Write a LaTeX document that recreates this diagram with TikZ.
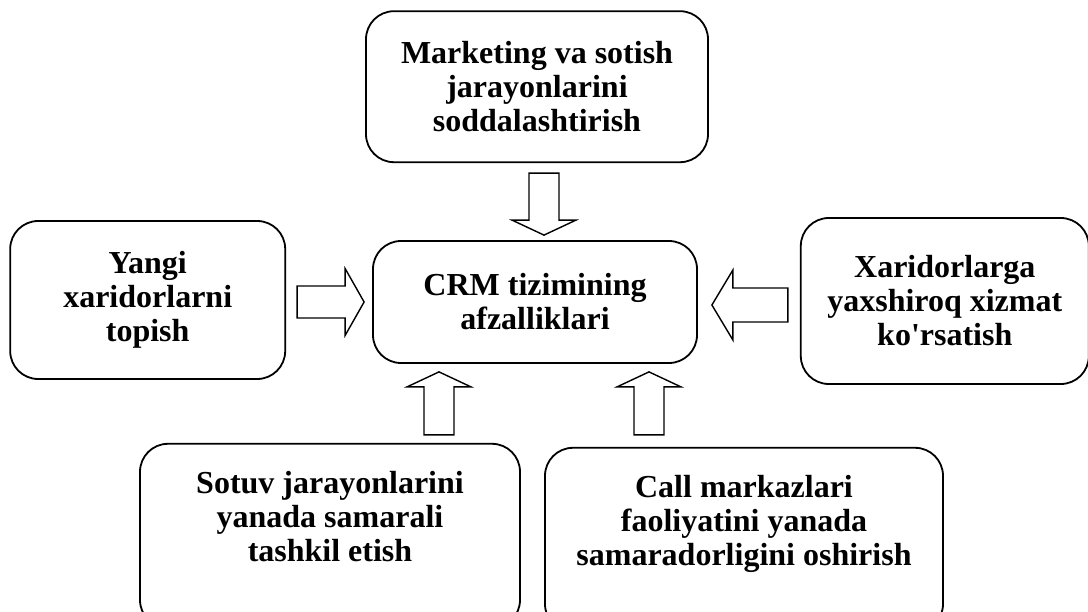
\documentclass[tikz,border=0pt]{standalone}
\usepackage{fontspec}
\setmainfont{Liberation Serif}[Ligatures=TeXOff]
\usetikzlibrary{calc,positioning}
\tikzset{%
	box/.style      = {draw, rectangle, rounded corners=28pt, line width=1.8pt, align=center, inner sep=0pt, font=\bfseries\fontsize{32}{34}\selectfont}, % Box
	openbox/.style  = {box, inner ysep=27pt, text depth=40pt}, % Box running off the page
	bigarrow/.style n args = {3}{draw, line width=1.4pt, to path={let \p1=(\tikztostart), \p2=(\tikztotarget), \n1={atan2(\y2-\y1,\x2-\x1)} in
		($(\p1)+(\n1+90:#1pt)$) -- ($(\p2)+(\n1+180:#3pt)+(\n1+90:#1pt)$) -- ($(\p2)+(\n1+180:#3pt)+(\n1+90:#2pt)$) -- (\p2)
		-- ($(\p2)+(\n1+180:#3pt)+(\n1-90:#2pt)$) -- ($(\p2)+(\n1+180:#3pt)+(\n1-90:#1pt)$) -- ($(\p1)+(\n1-90:#1pt)$) -- cycle}}, % Hollow arrow
}

\begin{document}
\begin{tikzpicture}[x=1pt,y=-1pt]
	\useasboundingbox (0,0) rectangle (1088,612);
	\node [box, minimum width=324pt, minimum height=122pt] (crm) at (535,302) {CRM tizimining\\afzalliklari};
	\node [box, minimum width=342pt, minimum height=151pt] (mark) [above=77pt of crm, xshift=2pt] {Marketing va sotish\\jarayonlarini\\soddalashtirish};
	\node [box, minimum width=275pt, minimum height=158pt] (yangi) [left=86pt of crm, yshift=2pt] {Yangi\\xaridorlarni\\topish};
	\node [box, minimum width=288pt, minimum height=166pt] (xarid) [right=102pt of crm, yshift=1pt] {Xaridorlarga\\yaxshiroq xizmat\\ko'rsatish};
	\node [openbox, minimum width=380pt] (sotuv) [below=79pt of crm, xshift=-205pt] {Sotuv jarayonlarini\\yanada samarali\\tashkil etish};
	\node [openbox, minimum width=398pt] (call) [below=83pt of crm, xshift=209pt] {Call markazlari\\faoliyatini yanada\\samaradorligini oshirish};
	
	\draw[bigarrow={15}{32}{15}] ([xshift=7pt,yshift=-10pt]mark.south) to ([xshift=9pt,yshift=5pt]crm.north);
	\draw[bigarrow={16}{33.5}{19}] ([xshift=11pt,yshift=-2pt]yangi.east) to ([xshift=-8pt]crm.west);
	\draw[bigarrow={17}{35}{21}] ([xshift=-12pt,yshift=-4pt]xarid.west) to ([xshift=14pt,yshift=-3pt]crm.east);
	\draw[bigarrow={15}{32}{15}] ([xshift=109pt,yshift=8pt]sotuv.north) to ([xshift=-96pt,yshift=-8pt]crm.south);
	\draw[bigarrow={15}{32}{15}] ([xshift=-95pt,yshift=12pt]call.north) to ([xshift=114pt,yshift=-8pt]crm.south);
\end{tikzpicture}
\end{document}
